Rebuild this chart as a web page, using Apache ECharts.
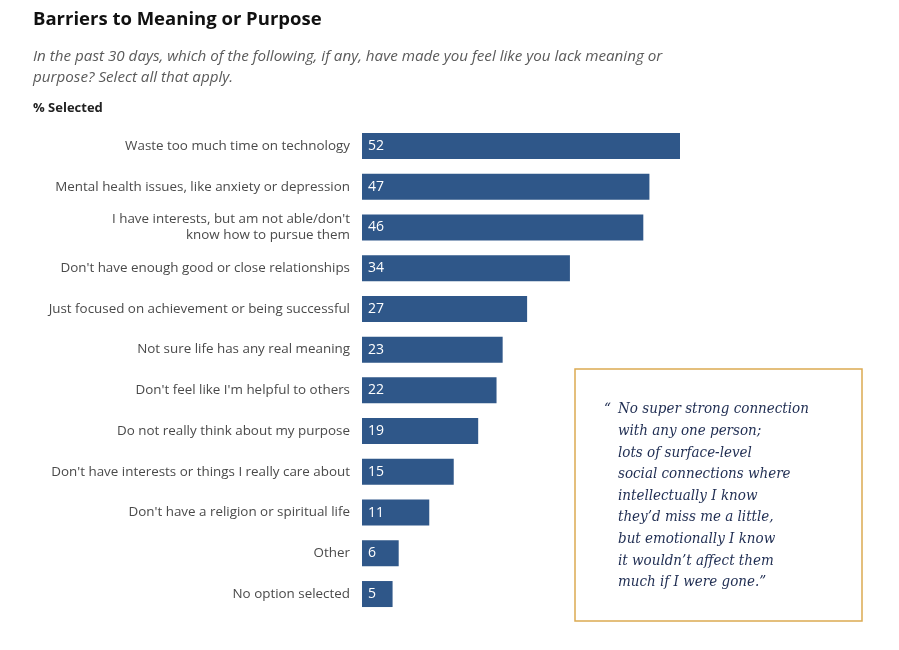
<!DOCTYPE html>
<html>
<head>
<meta charset="utf-8">
<script src="https://cdn.jsdelivr.net/npm/echarts@6/dist/echarts.min.js"></script>
<style>
  html, body { margin: 0; padding: 0; background: #fff; }
  #chart { width: 899px; height: 650px; }
</style>
</head>
<body>
<div id="chart"></div>
<script>
// categories, top to bottom
const categories = [
  'Waste too much time on technology',
  'Mental health issues, like anxiety or depression',
  "I have interests, but am not able/don't\nknow how to pursue them",
  "Don't have enough good or close relationships",
  'Just focused on achievement or being successful',
  'Not sure life has any real meaning',
  "Don't feel like I'm helpful to others",
  'Do not really think about my purpose',
  "Don't have interests or things I really care about",
  "Don't have a religion or spiritual life",
  'Other',
  'No option selected'
]
const selected = [52, 47, 46, 34, 27, 23, 22, 19, 15, 11, 6, 5]

const quoteLines = [
  'No super strong connection',
  'with any one person;',
  'lots of surface-level',
  'social connections where',
  'intellectually I know',
  'they\u2019d miss me a little,',
  'but emotionally I know',
  'it wouldn\u2019t affect them',
  'much if I were gone.\u201d'
]

const chart = echarts.init(document.getElementById('chart'))

const quoteFont = 'italic 15px "DejaVu Serif Condensed", "DejaVu Serif", serif'

const quoteText = quoteLines.map((line, i) => ({
  type: 'text',
  left: 618,
  top: 402 + i * 21.6,
  style: { text: line, fill: '#1f2d52', font: quoteFont }
}))

const option = {
  animation: false,
  backgroundColor: '#fff',
  title: [
    {
      text: 'Barriers to Meaning or Purpose',
      left: 28, top: 5,
      textStyle: { fontFamily: 'Open Sans', fontWeight: 'bold', fontSize: 18.5, color: '#111' }
    },
    {
      text: 'In the past 30 days, which of the following, if any, have made you feel like you lack meaning or\npurpose? Select all that apply.',
      left: 28, top: 41,
      textStyle: { fontFamily: 'Open Sans', fontStyle: 'italic', fontWeight: 'normal', fontSize: 15.2, color: '#5a5a5a', lineHeight: 21 }
    },
    {
      text: '% Selected',
      left: 28, top: 97,
      textStyle: { fontFamily: 'Open Sans', fontWeight: 'bold', fontSize: 13, color: '#222' }
    }
  ],
  grid: { left: 362, right: 219, top: 125.6, height: 488.8, containLabel: false },
  xAxis: {
    type: 'value', min: 0, max: 52,
    show: false
  },
  yAxis: {
    type: 'category',
    data: categories,
    inverse: true,
    axisLine: { show: false },
    axisTick: { show: false },
    axisLabel: {
      margin: 12,
      fontFamily: 'Open Sans',
      fontSize: 13.4,
      color: '#4a4a4a',
      lineHeight: 16,
      align: 'right'
    }
  },
  series: [{
    type: 'bar',
    data: selected,
    barWidth: 26,
    itemStyle: { color: '#2f5789' },
    label: {
      show: true,
      position: 'insideLeft',
      offset: [1, 0],
      color: '#fff',
      fontFamily: 'Open Sans',
      fontSize: 14
    }
  }],
  graphic: [
    {
      type: 'rect',
      shape: { x: 575, y: 369, width: 287, height: 252 },
      style: { fill: 'none', stroke: '#dcaa52', lineWidth: 1.5 }
    },
    {
      type: 'text',
      left: 604,
      top: 402,
      style: { text: '\u201c', fill: '#1f2d52', font: quoteFont }
    },
    ...quoteText
  ]
}

chart.setOption(option)
</script>
</body>
</html>
